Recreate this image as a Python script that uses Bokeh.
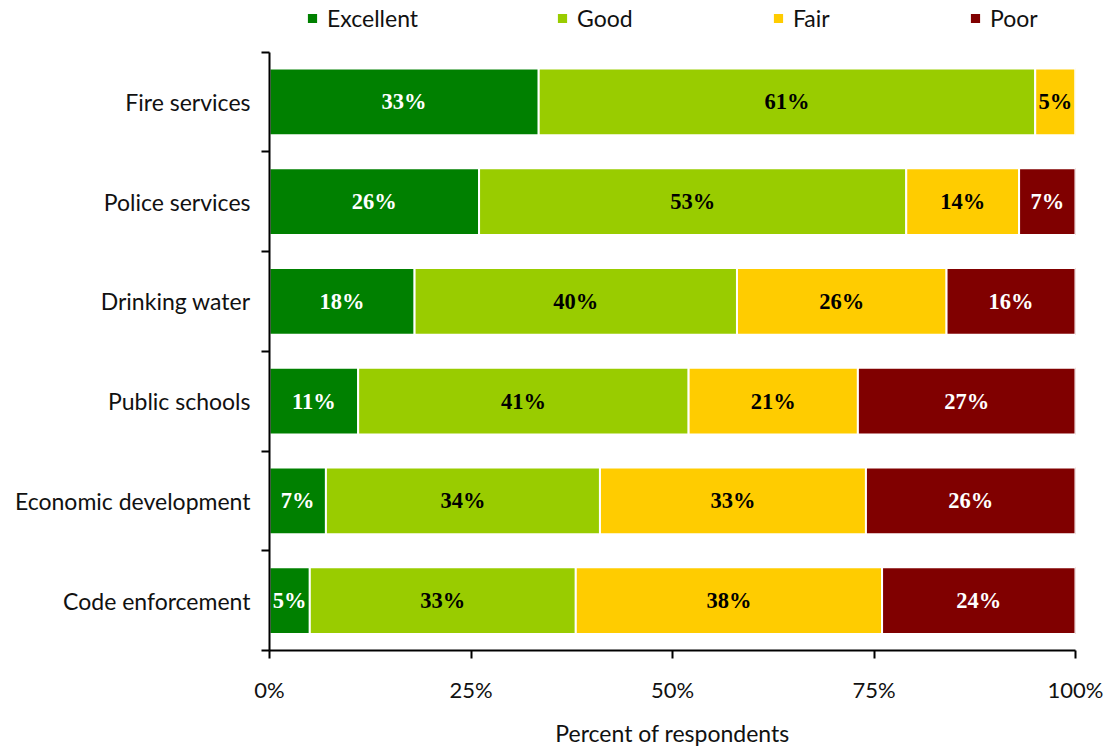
from bokeh.plotting import figure
from bokeh.models import (Range1d, FixedTicker, PrintfTickFormatter, Legend, LegendItem,
                          ColumnDataSource)
from bokeh.core.properties import value
from bokeh.embed import file_html
from bokeh.resources import INLINE

# ---- data ----
services = ["Fire services", "Police services", "Drinking water",
            "Public schools", "Economic development", "Code enforcement"]
ratings = ["Excellent", "Good", "Fair", "Poor"]
excellent = [33.4, 26, 18, 11, 7, 5]
good = [61.6, 53, 40, 41, 34, 33]
fair = [5.0, 14, 26, 21, 33, 38]
poor = [0, 7, 16, 27, 26, 24]
x_ticks = [0, 25, 50, 75, 100]

colors = ["#008000", "#99CC00", "#FFCC00", "#800000"]
label_colors = ["white", "black", "black", "white"]
SANS = "Lato"
SERIF = "Liberation Serif"

n = len(services)
ypos = [n - i - 0.5 for i in range(n)]

data = dict(y=ypos, Excellent=excellent, Good=good, Fair=fair, Poor=poor)
source = ColumnDataSource(data)

# frame covers the legend strip too; category area is 604 px of the 656 px frame
FRAME_H = 656
CAT_H = 604
y_top = n * FRAME_H / CAT_H

p = figure(width=1112, height=749, output_backend="svg", toolbar_location=None,
           x_range=Range1d(0, 100), y_range=Range1d(0, y_top),
           min_border_left=269, min_border_right=37, min_border_top=0,
           min_border_bottom=93)
p.outline_line_color = None
p.xgrid.visible = False
p.ygrid.visible = False

renderers = p.hbar_stack(ratings, y="y", height=0.67, color=colors, source=source,
                         line_color="white", line_width=2)

# segment labels
series = [excellent, good, fair, poor]
for k, vals in enumerate(series):
    xs, ys, txt = [], [], []
    for i in range(n):
        left = sum(series[j][i] for j in range(k))
        v = vals[i]
        if v <= 0:
            continue
        xs.append(left + v / 2)
        ys.append(ypos[i])
        txt.append(f"{int(v)}%")
    p.text(x=xs, y=ys, text=txt, text_color=label_colors[k],
           text_font=value(SERIF), text_font_style="bold", text_font_size="22.5px",
           text_align="center", text_baseline="middle")

# x axis
xa = p.xaxis[0]
xa.ticker = FixedTicker(ticks=x_ticks)
xa.formatter = PrintfTickFormatter(format="%d%%")
xa.axis_label = "Percent of respondents"
xa.axis_label_text_font = SANS
xa.axis_label_text_font_style = "normal"
xa.axis_label_text_font_size = "23px"
xa.axis_label_text_color = "#111111"
xa.axis_label_standoff = 13
xa.major_label_text_font = SANS
xa.major_label_text_font_size = "22px"
xa.major_label_text_color = "#111111"
xa.major_label_standoff = 17
xa.major_tick_out = 8
xa.major_tick_in = 0
xa.major_tick_line_width = 2
xa.major_tick_line_color = "black"
xa.minor_tick_line_color = None
xa.axis_line_width = 2
xa.axis_line_color = "black"

# y axis: labels at centres, ticks at category boundaries
ya = p.yaxis[0]
ya.bounds = (0, n)
ya.ticker = FixedTicker(ticks=ypos, minor_ticks=list(range(n + 1)))
ya.major_label_overrides = {y: s for y, s in zip(ypos, services)}
ya.major_label_text_font = SANS
ya.major_label_text_font_size = "23px"
ya.major_label_text_color = "#111111"
ya.major_tick_line_color = None
ya.major_tick_out = 0
ya.major_tick_in = 0
ya.major_label_standoff = 11
ya.minor_tick_out = 8
ya.minor_tick_in = 0
ya.minor_tick_line_width = 2
ya.minor_tick_line_color = "black"
ya.axis_line_width = 2
ya.axis_line_color = "black"

# legend items, each placed individually inside the top strip of the frame
legend_x = [36, 286, 502, 699]
for r, name, lx in zip(renderers, ratings, legend_x):
    lg = Legend(items=[LegendItem(label=name, renderers=[r])], location=(lx, 618),
                orientation="horizontal", padding=0, margin=0, spacing=0,
                border_line_color=None, background_fill_alpha=0,
                glyph_width=14, glyph_height=14, label_standoff=8,
                label_text_font=SANS, label_text_font_size="23px",
                label_text_color="#111111", label_height=24)
    p.add_layout(lg)

open("out.html", "w").write(file_html(p, INLINE))
